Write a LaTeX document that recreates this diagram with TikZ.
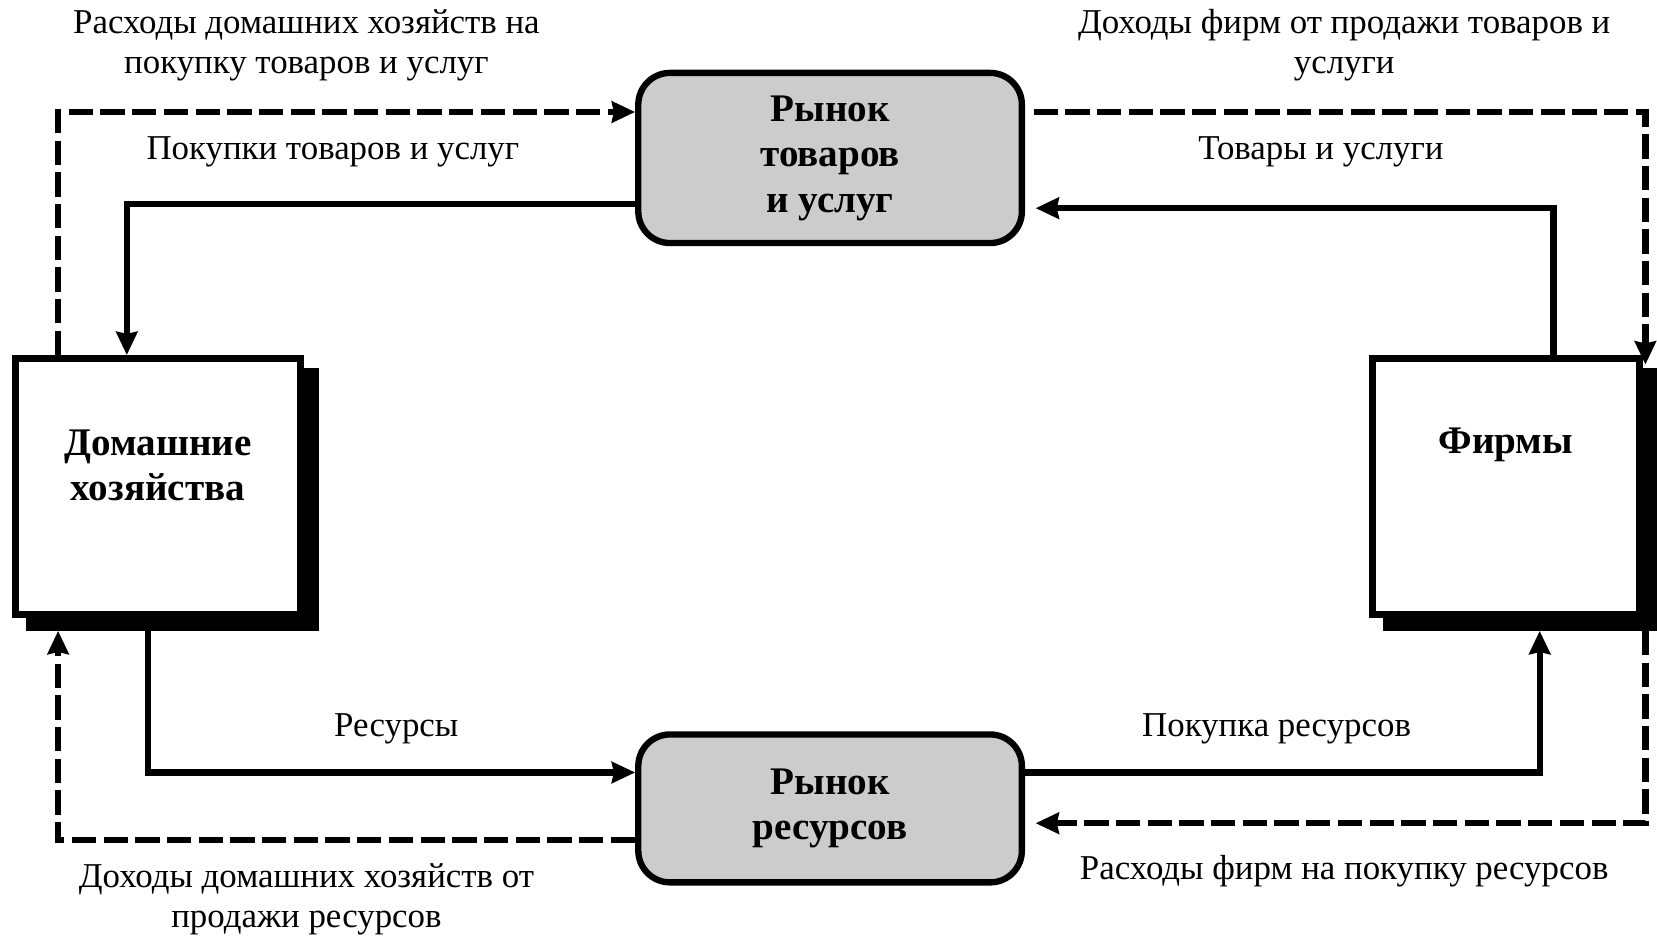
\documentclass[tikz,border=0pt]{standalone}
\usepackage{fontspec}
\setmainfont{Liberation Serif}
\usetikzlibrary{arrows.meta,shadows}
\tikzstyle{sector}=[rectangle, draw, line width=3.5pt, fill=white, minimum height=121pt, inner sep=0,
  drop shadow={shadow xshift=7pt, shadow yshift=-6pt, fill=black, draw=black, line width=3.5pt, opacity=1}]
\tikzstyle{market}=[rectangle, rounded corners=15pt, draw, line width=3pt, fill=gray!40, minimum width=181.5pt,
  inner sep=0, align=center, font=\fontsize{18.5}{21.5}\selectfont\bfseries]
\tikzstyle{title}=[align=center, font=\fontsize{18.5}{21.5}\selectfont\bfseries]
\tikzstyle{lbl}=[align=center, font=\fontsize{16.5}{19}\selectfont]
\tikzstyle{flow}=[line width=3pt, -{Stealth[length=11pt,width=10pt,inset=1pt]}]
\tikzstyle{money}=[flow, dash pattern=on 11.5pt off 3.5pt]
\begin{document}
\begin{tikzpicture}[x=0.5pt, y=-0.5pt]
\useasboundingbox (0,0) rectangle (1568,886);

\node[sector, minimum width=135pt] (hh) at (149.5,460.5) {};
\node[sector, minimum width=126.5pt] (firms) at (1425,460.5) {};
\node[market, minimum height=80.5pt] (goods) at (785.5,149.5) {Рынок\\товаров\\и услуг};
\node[market, minimum height=70pt] (res) at (785.5,765) {Рынок\\ресурсов};
\node[title] (hhname) at ([shift={(0,-20)}]hh) {Домашние\\хозяйства};
\node[title] (firmsname) at ([shift={(0,-40)}]firms) {Фирмы};

% goods and services
\draw[money] ([shift={(44,0)}]hh.north west) |- ([shift={(0,-43.5)}]goods.west);
\draw[flow] ([shift={(0,43.5)}]goods.west) -| ([shift={(109,0)}]hh.north west);
\draw[flow] ([shift={(175,0)}]firms.north west) |- ([shift={(10,47.5)}]goods.east);
\draw[money] ([shift={(8,-43.5)}]goods.east) -| ([shift={(2,9)}]firms.north east);

% resources
\draw[flow] ([shift={(129,12)}]hh.south west) |- ([shift={(0,-34)}]res.west);
\draw[flow] ([shift={(0,-34)}]res.east) -| ([shift={(162,12)}]firms.south west);
\draw[money] ([shift={(2,12)}]firms.south east) |- ([shift={(10,14)}]res.east);
\draw[money] ([shift={(0,30)}]res.west) -| ([shift={(44,12)}]hh.south west);

\node[lbl] (hhspend) at (290,43) {Расходы домашних хозяйств на\\покупку товаров и услуг};
\node[lbl] (firmincome) at (1272,43) {Доходы фирм от продажи товаров и\\услуги};
\node[lbl] (buygoods) at (315,144) {Покупки товаров и услуг};
\node[lbl] (goodsflow) at (1250,144) {Товары и услуги};
\node[lbl] (resflow) at (375,690) {Ресурсы};
\node[lbl] (buyres) at (1208,690) {Покупка ресурсов};
\node[lbl] (hhincome) at (290,851) {Доходы домашних хозяйств от\\продажи ресурсов};
\node[lbl] (firmspend) at (1272,824) {Расходы фирм на покупку ресурсов};
\end{tikzpicture}
\end{document}
